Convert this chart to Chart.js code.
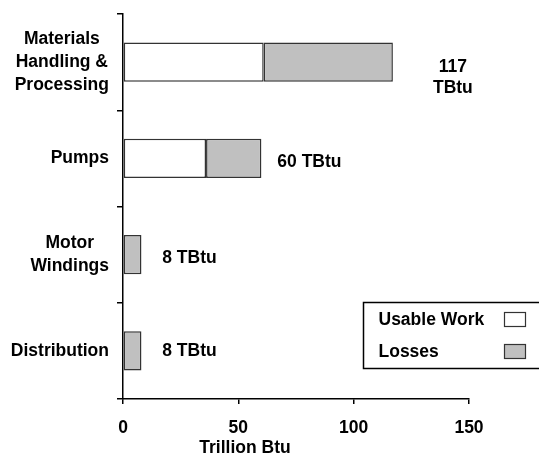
<!DOCTYPE html>
<html>
<head>
<meta charset="utf-8">
<script src="https://cdn.jsdelivr.net/npm/chart.js@4.4.0/dist/chart.umd.min.js"></script>
<style>
  html, body { margin: 0; padding: 0; background: #fff; }
  #wrap { width: 539px; height: 456px; }
</style>
</head>
<body>
<div id="wrap"><canvas id="barChart" width="539" height="456"></canvas></div>
<script>
// motor system energy, trillion Btu
const categories = [['Materials', 'Handling &', 'Processing'], ['Pumps'], ['Motor', 'Windings'], ['Distribution']];
const usableWork = [61, 36, 0, 0];
const losses = [56, 24, 8, 8];
const xTicks = [0, 50, 100, 150];
const seriesNames = ['Usable Work', 'Losses'];
const unit = 'TBtu';
const axisTitle = 'Trillion Btu';

// total labels: the long bar gets its label on two lines
const wrapTotal = [true, false, false, false];
const totalNudge = [[60, 16], [48, 4], [48, 4], [48, 0]];

const FONT = 'bold 17.5px "Liberation Sans", Arial, sans-serif';

const overlay = {
  id: 'overlay',
  afterDraw(chart) {
    const ctx = chart.ctx;
    const area = chart.chartArea;
    const xs = chart.scales.x;
    const ys = chart.scales.y;
    ctx.save();
    ctx.font = FONT;
    ctx.fillStyle = '#000';
    ctx.textBaseline = 'middle';
    ctx.textAlign = 'center';

    // category names: block right-aligned, lines centred
    chart.data.labels.forEach((lines, i) => {
      const cy = ys.getPixelForValue(i);
      const w = Math.max(...lines.map(l => ctx.measureText(l).width));
      const cx = area.left - 14 - w / 2;
      lines.forEach((l, k) => {
        ctx.fillText(l, cx, cy + (k - (lines.length - 1) / 2) * 23);
      });
    });

    // totals at the end of each bar
    categories.forEach((c, i) => {
      const total = usableWork[i] + losses[i];
      const px = xs.getPixelForValue(total);
      const cy = ys.getPixelForValue(i) + totalNudge[i][1];
      const lines = wrapTotal[i] ? [String(total), unit] : [total + ' ' + unit];
      lines.forEach((l, k) => {
        ctx.fillText(l, px + totalNudge[i][0], cy + (k - (lines.length - 1) / 2) * 21);
      });
    });

    // axis title
    ctx.fillText(axisTitle, area.left + 122, 448);

    // legend box, text first then swatch
    const bx = 363.5, by = 302.5;
    ctx.lineWidth = 1.5;
    ctx.strokeStyle = '#000';
    ctx.strokeRect(bx, by, 190, 66);
    ctx.textAlign = 'left';
    chart.data.datasets.forEach((ds, k) => {
      const ty = by + 18 + k * 32;
      ctx.fillStyle = '#000';
      ctx.fillText(ds.label, bx + 15, ty);
      ctx.fillStyle = ds.backgroundColor;
      ctx.fillRect(bx + 141, ty - 8, 21, 14);
      ctx.lineWidth = 1.2;
      ctx.strokeStyle = '#333';
      ctx.strokeRect(bx + 141, ty - 8, 21, 14);
    });
    ctx.restore();
  }
};

const ctx = document.getElementById('barChart');
new Chart(ctx, {
  type: 'bar',
  data: {
    labels: categories,
    datasets: [
      {
        label: seriesNames[0],
        data: usableWork,
        backgroundColor: '#ffffff',
        borderColor: '#333333',
        borderWidth: 1.5,
        borderSkipped: false,
        barPercentage: 0.41,
        categoryPercentage: 1
      },
      {
        label: seriesNames[1],
        data: losses,
        backgroundColor: '#c0c0c0',
        borderColor: '#333333',
        borderWidth: 1.5,
        borderSkipped: false,
        barPercentage: 0.41,
        categoryPercentage: 1
      }
    ]
  },
  options: {
    indexAxis: 'y',
    responsive: false,
    devicePixelRatio: 1,
    animation: false,
    layout: { padding: { top: 14, right: 70, left: 0, bottom: 0 } },
    plugins: {
      legend: { display: false },
      tooltip: { enabled: false }
    },
    scales: {
      x: {
        stacked: true,
        min: xTicks[0],
        max: xTicks[xTicks.length - 1],
        afterBuildTicks: s => { s.ticks = xTicks.map(v => ({ value: v })); },
        afterFit: s => { s.height = 57; },
        border: { color: '#000', width: 1.5 },
        grid: { drawOnChartArea: false, tickLength: 5, color: '#000', lineWidth: 1.5 },
        ticks: {
          color: '#000',
          padding: 14,
          maxRotation: 0,
          font: { family: '"Liberation Sans", Arial, sans-serif', size: 17.5, weight: 'bold' }
        }
      },
      y: {
        stacked: true,
        afterFit: s => { s.width = 123; },
        border: { color: '#000', width: 1.5 },
        grid: { drawOnChartArea: false, tickLength: 6, color: '#000', lineWidth: 1.5, offset: true },
        ticks: { display: false }
      }
    }
  },
  plugins: [overlay]
});
</script>
</body>
</html>
